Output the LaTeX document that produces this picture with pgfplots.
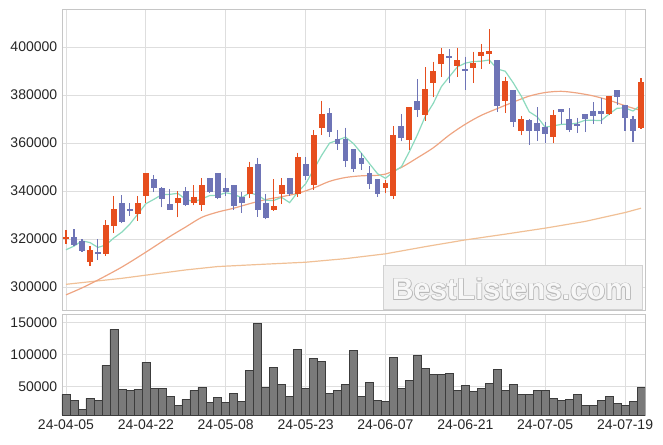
\documentclass[border=0pt]{standalone}
\usepackage{pgfplots}
\pgfplotsset{compat=1.18}
\usepgfplotslibrary{statistics}
\usepackage{fontspec}
\setmainfont{Liberation Sans}
\definecolor{upc}{RGB}{230,78,30}
\definecolor{dnc}{RGB}{110,116,182}
\definecolor{maA}{RGB}{140,218,190}
\definecolor{maB}{RGB}{238,165,130}
\definecolor{maC}{RGB}{240,192,150}
\definecolor{volc}{RGB}{122,122,122}
\definecolor{vole}{RGB}{60,60,60}
\definecolor{gridc}{RGB}{222,222,222}
\newcommand\cu[5]{\addplot[upc, fill=upc, line width=1.1pt, boxplot prepared={draw position=#1, lower whisker=#4, lower quartile=#2, median=#2, upper quartile=#5, upper whisker=#3}] coordinates {};}
\newcommand\cd[5]{\addplot[dnc, fill=dnc, line width=1.1pt, boxplot prepared={draw position=#1, lower whisker=#4, lower quartile=#5, median=#5, upper quartile=#2, upper whisker=#3}] coordinates {};}
\begin{document}
\begin{tikzpicture}
\useasboundingbox (0,0) rectangle (663pt,444pt);
\pgfplotsset{
  common/.style={
    scale only axis, width=583pt, xmin=-0.5, xmax=72.5,
    xtick={0,10,...,70}, major tick length=0pt,
    grid=major, major grid style={gridc, line width=0.8pt},
    axis line style={gray!45},
    scaled y ticks=false,
    tick label style={font=\fontsize{14}{14}\selectfont, text=black!85},
    /pgf/number format/assume math mode=true,
    yticklabel style={/pgf/number format/fixed, /pgf/number format/1000 sep={}, inner sep=0pt, xshift=-4.6pt},
    xticklabel style={inner sep=0pt, yshift=-5pt},
  }
}
\begin{axis}[common, at={(62pt,134pt)}, anchor=south west, height=301pt,
  ymin=290400, ymax=415800, ytick={300000,320000,...,400000},
  xticklabels={},
  boxplot/draw direction=y, boxplot/box extend=0.6, boxplot/whisker extend=0]
% long moving average
\addplot[maC, line width=1.2pt] coordinates {(0,301100) (7,303600) (15,307100) (19,308500) (25,309500) (30,310300) (35,311800) (40,313800) (45,316800) (50,319600) (55,322000) (60,324500) (65,327300) (70,331000) (72,332800)};
% 20-day moving average
\addplot[maB, line width=1.2pt, smooth] coordinates {(0,296700) (2,299600) (4,302900) (7,308300) (10,314500) (13,321000) (15,325000) (17,329000) (19,331200) (21,332800) (23,334700) (25,336400) (27,337600) (29,339000) (31,341200) (33,344000) (35,345600) (37,346300) (39,346500) (40,347000) (42,349800) (44,353800) (46,358000) (48,363300) (50,367800) (52,371500) (54,374300) (56,377000) (58,379500) (60,381000) (62,381500) (64,380800) (66,379600) (68,377800) (70,375500) (72,373500)};
% 5-day moving average
\addplot[maA, line width=1.2pt] coordinates {(0,315500) (1,317000) (2,319200) (3,318500) (4,316480) (5,317480) (6,320440) (7,322860) (8,326200) (9,330400) (10,334680) (11,336500) (12,338460) (13,338580) (14,339000) (15,336440) (16,335560) (17,336640) (18,338100) (19,338180) (20,339240) (21,338600) (22,337200) (23,339240) (24,338240) (25,336120) (26,336000) (27,337340) (28,335120) (29,339440) (30,342920) (31,348840) (32,354760) (33,359940) (34,361120) (35,362420) (36,359720) (37,355680) (38,351380) (39,347200) (40,345260) (41,347960) (42,350100) (43,356400) (44,363400) (45,371180) (46,376540) (47,383440) (48,387600) (49,391640) (50,393260) (51,393900) (52,394060) (53,394540) (54,390820) (55,389860) (56,385060) (57,379540) (58,372980) (59,370880) (60,366580) (61,367100) (62,367720) (63,367820) (64,368240) (65,369460) (66,369440) (67,369280) (68,372040) (69,374460) (70,374560) (71,373300) (72,375860)};
\cu{0}{320000}{323800}{318000}{320700}
\cd{1}{320700}{324000}{317000}{317600}
\cd{2}{319000}{319900}{314600}{315100}
\cu{3}{310700}{317000}{308900}{315100}
\cd{4}{314200}{319900}{311200}{313900}
\cu{5}{314000}{327700}{313000}{325700}
\cu{6}{325700}{337900}{322500}{332400}
\cd{7}{334900}{338300}{326500}{327200}
\cd{8}{332300}{334900}{329600}{331800}
\cu{9}{330700}{337900}{327500}{334900}
\cu{10}{338200}{347500}{335100}{347100}
\cd{11}{344900}{346700}{339500}{341500}
\cd{12}{340800}{341600}{333200}{337000}
\cd{13}{334300}{340700}{332200}{332400}
\cu{14}{335100}{340000}{329000}{337000}
\cd{15}{339600}{341600}{333700}{334300}
\cu{16}{335300}{342400}{334000}{337100}
\cu{17}{334300}{345300}{331700}{342400}
\cd{18}{345300}{345400}{339000}{339700}
\cd{19}{347100}{347200}{336500}{337400}
\cd{20}{340800}{345300}{337900}{339600}
\cd{21}{342100}{342500}{332100}{333900}
\cd{22}{337400}{339700}{331000}{335400}
\cu{23}{339000}{352200}{337000}{349900}
\cd{24}{350800}{353900}{329300}{332400}
\cd{25}{334600}{338800}{328200}{329000}
\cu{26}{332200}{344900}{332000}{333300}
\cu{27}{338900}{345300}{334500}{342100}
\cd{28}{345300}{345400}{337900}{338800}
\cu{29}{338800}{356000}{337600}{354000}
\cd{30}{350800}{354000}{344600}{346400}
\cu{31}{342900}{365400}{340400}{362900}
\cu{32}{366400}{377600}{363300}{371700}
\cd{33}{372100}{374500}{362600}{364700}
\cd{34}{361500}{365400}{357100}{359900}
\cd{35}{361500}{366400}{349900}{352900}
\cd{36}{357100}{357200}{348000}{349400}
\cd{37}{353300}{355700}{348700}{351500}
\cd{38}{347400}{350400}{340700}{343200}
\cd{39}{344600}{344700}{337600}{339000}
\cu{40}{341500}{344600}{339000}{343200}
\cu{41}{338000}{367000}{336600}{362900}
\cd{42}{366700}{372000}{360600}{362200}
\cu{43}{361250}{374800}{357100}{374700}
\cd{44}{377200}{386500}{370700}{374000}
\cu{45}{371700}{391500}{369300}{382100}
\cu{46}{385100}{393900}{379000}{389700}
\cu{47}{393100}{399500}{387600}{396700}
\cd{48}{395900}{399000}{384900}{395500}
\cu{49}{392200}{399700}{387600}{394200}
\cd{50}{390600}{396000}{382100}{390200}
\cu{51}{391400}{398000}{384900}{392900}
\cu{52}{396400}{401300}{390700}{397500}
\cu{53}{397200}{407400}{392900}{397900}
\cd{54}{394200}{394600}{373000}{375600}
\cu{55}{377600}{387600}{372400}{385400}
\cd{56}{382000}{382100}{366800}{368900}
\cu{57}{365100}{371300}{363200}{369900}
\cd{58}{369200}{369900}{359200}{365100}
\cd{59}{368200}{374900}{361000}{365100}
\cd{60}{366500}{368900}{359900}{363900}
\cu{61}{362600}{373750}{359900}{371500}
\cd{62}{374000}{374100}{367900}{373000}
\cd{63}{369900}{374500}{364500}{365600}
\cd{64}{367500}{370500}{364300}{367200}
\cd{65}{371900}{372000}{364500}{370000}
\cd{66}{372900}{376900}{367800}{371400}
\cd{67}{372900}{378900}{367900}{372200}
\cu{68}{372200}{379500}{372100}{379400}
\cd{69}{381700}{381800}{375800}{379300}
\cd{70}{375400}{375500}{365000}{370500}
\cd{71}{369600}{371400}{360300}{365100}
\cu{72}{366400}{387000}{366000}{385000}
\end{axis}
\begin{axis}[common, at={(62pt,29pt)}, anchor=south west, height=101pt,
  ymin=6000, ymax=162900, ytick={50000,100000,150000},
  xticklabels={24-04-05,24-04-22,24-05-08,24-05-23,24-06-07,24-06-21,24-07-05,24-07-19}]
\addplot[ybar, bar width=1, bar shift=0pt, fill=volc, draw=vole, line width=0.5pt] coordinates {(0,38100) (1,29300) (2,15300) (3,31900) (4,29300) (5,83200) (6,139100) (7,45900) (8,44300) (9,45900) (10,87800) (11,47400) (12,47400) (13,35000) (14,21000) (15,30300) (16,44300) (17,49000) (18,25600) (19,33400) (20,25600) (21,39600) (22,27200) (23,75400) (24,148400) (25,49000) (26,80000) (27,53600) (28,35000) (29,108000) (30,47400) (31,94000) (32,89400) (33,39600) (34,44300) (35,53600) (36,106500) (37,35000) (38,56700) (39,28800) (40,27200) (41,95600) (42,47400) (43,59800) (44,98700) (45,78500) (46,69200) (47,69200) (48,70700) (49,44300) (50,52100) (51,42700) (52,47400) (53,55200) (54,76900) (55,44300) (56,53600) (57,38100) (58,38100) (59,44300) (60,44300) (61,31900) (62,28800) (63,30300) (64,38100) (65,21000) (66,21000) (67,28800) (68,35000) (69,23900) (70,21000) (71,27200) (72,49000)};
\end{axis}
% watermark
\fill[gray!12] (383pt,135pt) rectangle (642pt,179pt);
\draw[gray!35, line width=0.8pt] (383pt,135pt) rectangle (642pt,179pt);
\foreach \dx/\dy in {0.7/0,-0.7/0,0/0.7,0/-0.7,0.5/0.5,-0.5/-0.5,0.5/-0.5,-0.5/0.5}{
  \node[text=gray!55, font=\fontsize{30}{30}\selectfont\bfseries] at ([xshift=\dx pt, yshift=\dy pt]512pt,155pt) {BestListens.com};
}
\node[text=gray!6, font=\fontsize{30}{30}\selectfont\bfseries] at (512pt,155pt) {BestListens.com};
\end{tikzpicture}
\end{document}
